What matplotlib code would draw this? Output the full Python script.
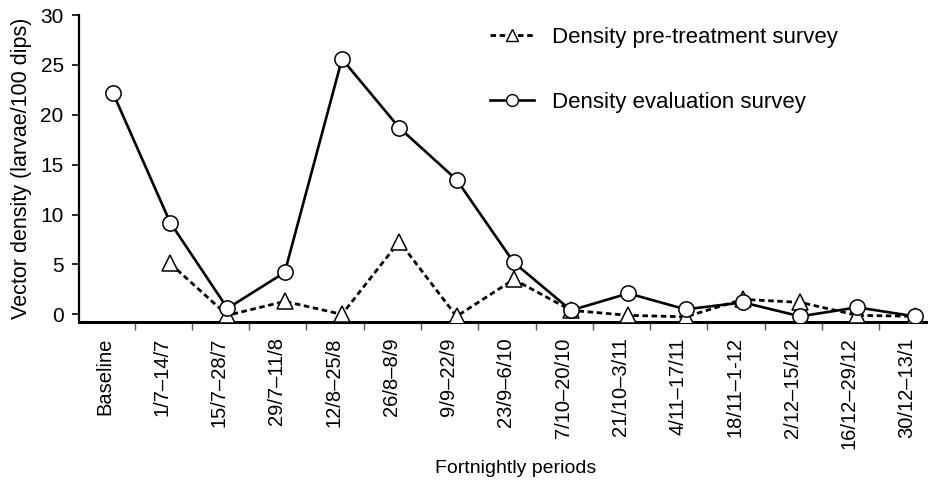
import numpy as np
import matplotlib
matplotlib.use("Agg")
import matplotlib.pyplot as plt
from matplotlib.lines import Line2D

plt.rcParams['font.family'] = ['Liberation Sans', 'DejaVu Sans']

# data
periods = ['Baseline', '1/7–14/7', '15/7–28/7', '29/7–11/8', '12/8–25/8',
           '26/8–8/9', '9/9–22/9', '23/9–6/10', '7/10–20/10', '21/10–3/11',
           '4/11–17/11', '18/11–1-12', '2/12–15/12', '16/12–29/12', '30/12–13/1']
evaluation = [22.2, 9.2, 0.6, 4.2, 25.6, 18.7, 13.5, 5.2, 0.4, 2.1,
              0.5, 1.2, -0.2, 0.7, -0.2]
pre_treatment = [np.nan, 5.1, -0.1, 1.3, 0.0, 7.3, -0.2, 3.5, 0.4, -0.1,
                 -0.25, 1.5, 1.2, -0.1, -0.2]
yticks = [0, 5, 10, 15, 20, 25, 30]

x = np.arange(len(periods))

fig = plt.figure(figsize=(9.29, 4.86), dpi=100)
ax = fig.add_axes([0.085, 0.3374, 0.915, 0.6317])

# pre-treatment (dashed, triangles)
ax.plot(x, pre_treatment, color='black', lw=2.0, ls=(0, (2.0, 1.3)),
        marker='^', ms=12, mfc='white', mec='black', mew=1.1, zorder=3)
# evaluation (solid, circles)
ax.plot(x, evaluation, color='black', lw=1.9, ls='-',
        marker='o', ms=11, mfc='white', mec='black', mew=1.1, zorder=4)

ax.set_xlim(-0.593, 14.25)
ax.set_ylim(-0.77, 30)

# ticks sit a bit right of the points, labels a bit left (as in the original)
ax.set_xticks(x[:-1] + 0.38)
ax.set_xticklabels([])
ax.set_xticks(x - 0.14, minor=True)
ax.set_xticklabels(periods, minor=True, rotation=90, fontsize=14.5)
ax.tick_params(axis='x', which='major', direction='out', length=6, width=1, color='#555555')
ax.tick_params(axis='x', which='minor', length=0, pad=11)

ax.set_yticks(yticks)
ax.tick_params(axis='y', direction='out', length=5, width=1.2, pad=6, labelsize=15)

for s in ['top', 'right']:
    ax.spines[s].set_visible(False)
ax.spines['bottom'].set_linewidth(2.2)
ax.spines['left'].set_linewidth(1.6)
ax.spines['left'].set_bounds(-0.77, 30)

ax.set_ylabel('Vector density (larvae/100 dips)', fontsize=15.5, labelpad=6)
fig.text(0.555, 0.037, 'Fortnightly periods', fontsize=14, ha='center', va='center')

handles = [
    Line2D([], [], color='black', lw=2.0, ls=(0, (2.0, 1.3)), marker='^', ms=8.5,
           mfc='white', mec='black', mew=1.0),
    Line2D([], [], color='black', lw=1.9, ls='-', marker='o', ms=8.5,
           mfc='white', mec='black', mew=1.0),
]
fig.legend(handles, ['Density pre-treatment survey', 'Density evaluation survey'],
           loc='upper left', bbox_to_anchor=(0.527, 0.945), frameon=False,
           fontsize=16, handlelength=2.0, handletextpad=0.8, labelspacing=2.0,
           borderpad=0, borderaxespad=0)

fig.savefig('out.png', dpi=100)
